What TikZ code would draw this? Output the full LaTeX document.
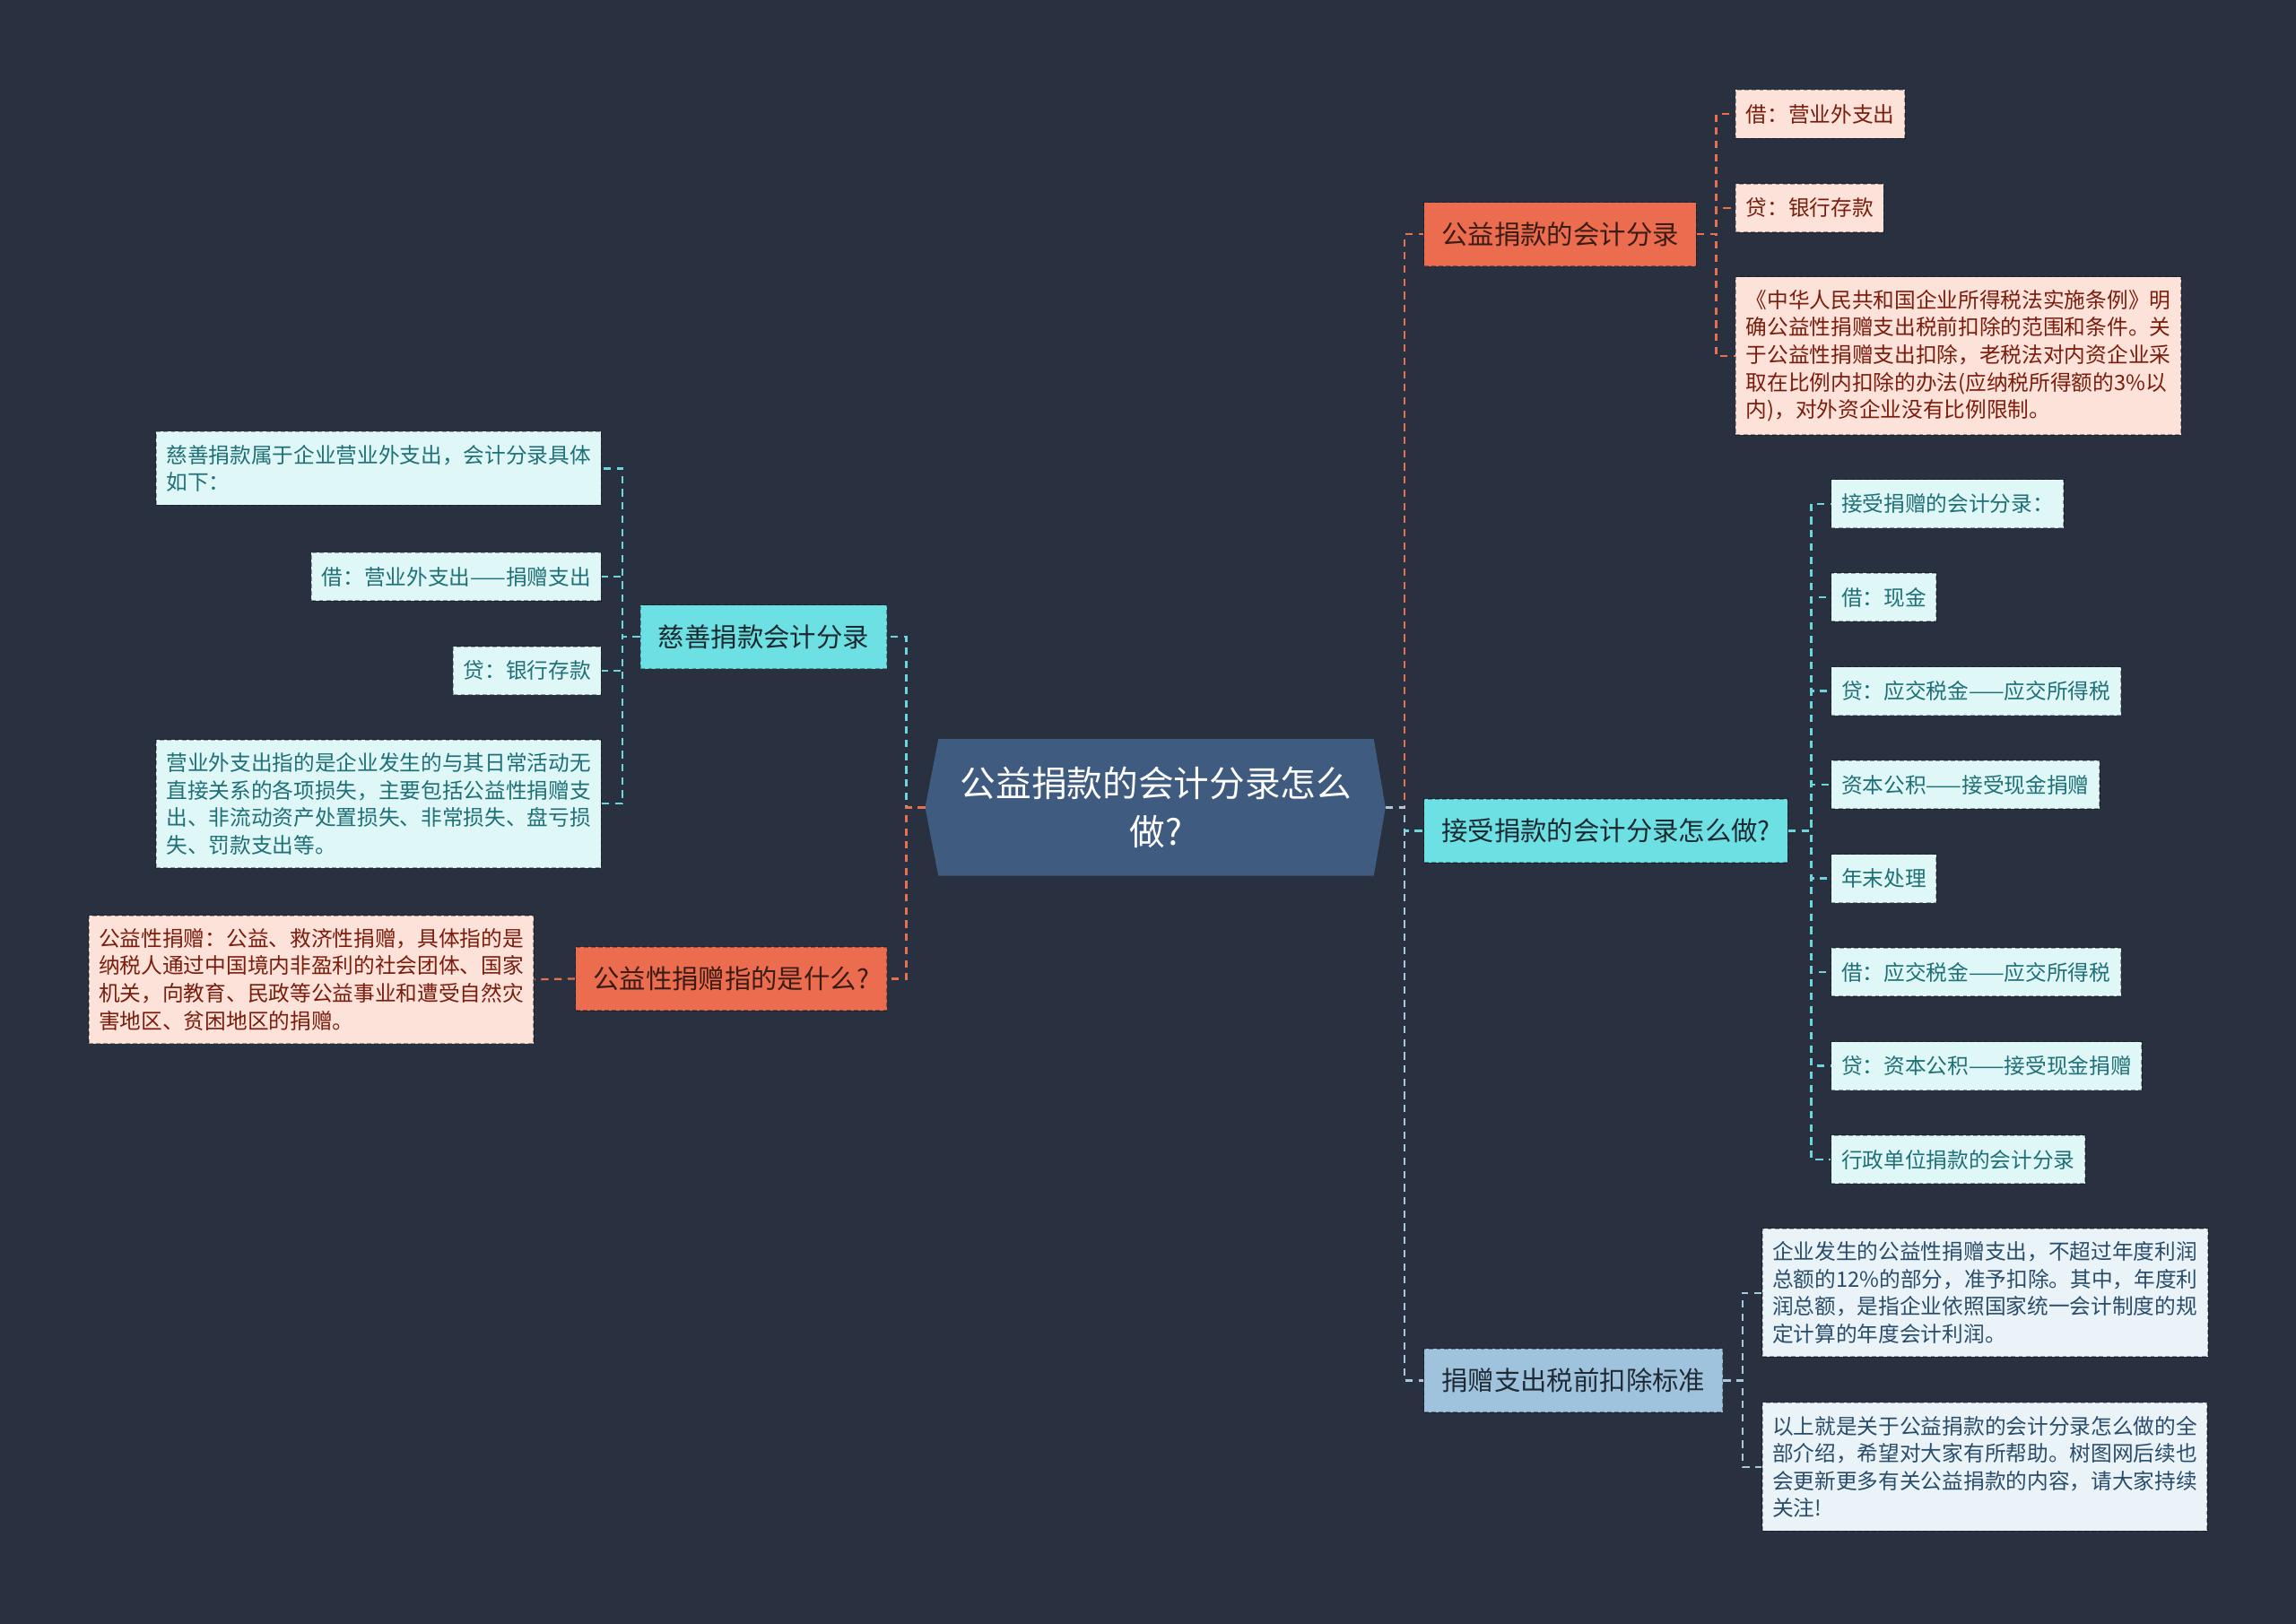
\documentclass[tikz,border=0pt]{standalone}
\usepackage{fontspec}
\setmainfont{Noto Sans CJK SC}
\usetikzlibrary{calc,backgrounds}
\definecolor{bg}{HTML}{29303F}
\definecolor{rootF}{HTML}{3F5B80}
\definecolor{lineO}{HTML}{E8704F}
\definecolor{lineC}{HTML}{6BD6DC}
\definecolor{lineB}{HTML}{A8C8DE}
\definecolor{orangeF}{HTML}{EC6C4F}
\definecolor{orangeT}{HTML}{3B1C14}
\definecolor{cyanF}{HTML}{6DE0E4}
\definecolor{cyanTT}{HTML}{1B2A30}
\definecolor{blueF}{HTML}{A0C3DD}
\definecolor{blueTT}{HTML}{1F2A35}
\definecolor{pinkL}{HTML}{FDE2DA}
\definecolor{pinkT}{HTML}{7B1D0D}
\definecolor{cyanL}{HTML}{E0F7F7}
\definecolor{cyanT}{HTML}{1F7077}
\definecolor{blueL}{HTML}{EAF3F8}
\definecolor{blueT}{HTML}{2A4D6B}
\begin{document}
\begin{tikzpicture}[x=1pt,y=-1pt,
  conn/.style={line width=1.4pt, dash pattern=on 5pt off 4pt},
  oline/.style={conn, draw=lineO},
  cline/.style={conn, draw=lineC},
  bline/.style={conn, draw=lineB},
  boxb/.style={draw=black, draw opacity=0.35, line width=0.9pt, dash pattern=on 3pt off 2pt, rectangle},
  leaf/.style={boxb, inner xsep=7pt, inner ysep=9pt, minimum height=33pt, align=left, font=\fontsize{14.5}{18.7}\selectfont},
  pleaf/.style={leaf, fill=pinkL, text=pinkT},
  cleaf/.style={leaf, fill=cyanL, text=cyanT},
  bleaf/.style={leaf, fill=blueL, text=blueT},
  topic/.style={boxb, inner xsep=12pt, inner ysep=4pt, minimum height=43.5pt, font=\fontsize{18}{22}\selectfont},
  otopic/.style={topic, fill=orangeF, text=orangeT},
  ctopic/.style={topic, fill=cyanF, text=cyanTT},
  btopic/.style={topic, fill=blueF, text=blueTT},
]
\useasboundingbox (0,0) rectangle (1568,1109);

% root
\node[inner sep=0pt, minimum width=297pt, minimum height=93pt, align=center, text=white,
  font=\fontsize{24.3}{33}\selectfont] (root) at (789.5,551.5) {公益捐款的会计分录怎么\\做?};
\coordinate (rootL) at ($(root.west)+(-9,0)$);
\coordinate (rootR) at ($(root.east)+(8,0)$);

% left level 1
\node[ctopic, anchor=east] (c1) at (606,435) {慈善捐款会计分录};
\node[otopic, anchor=east] (c2) at (606,668.5) {公益性捐赠指的是什么?};

% left leaves of c1
\node[cleaf, anchor=east] (a1) at (411,320) {慈善捐款属于企业营业外支出，会计分录具体\\如下：};
\node[cleaf, anchor=east] (a2) at (411,394) {借：营业外支出——捐赠支出};
\node[cleaf, anchor=east] (a3) at (411,458) {贷：银行存款};
\node[cleaf, anchor=east] (a4) at (411,549) {营业外支出指的是企业发生的与其日常活动无\\直接关系的各项损失，主要包括公益性捐赠支\\出、非流动资产处置损失、非常损失、盘亏损\\失、罚款支出等。};

% leaf of c2
\node[pleaf, anchor=east] (b1) at (365,669) {公益性捐赠：公益、救济性捐赠，具体指的是\\纳税人通过中国境内非盈利的社会团体、国家\\机关，向教育、民政等公益事业和遭受自然灾\\害地区、贫困地区的捐赠。};

% right level 1
\node[otopic, anchor=west] (r1) at (972,160) {公益捐款的会计分录};
\node[ctopic, anchor=west] (r2) at (972,567.5) {接受捐款的会计分录怎么做?};
\node[btopic, anchor=west] (r3) at (972,943) {捐赠支出税前扣除标准};

% leaves of r1
\node[pleaf, anchor=west] (d1) at (1185,78) {借：营业外支出};
\node[pleaf, anchor=west] (d2) at (1185,142) {贷：银行存款};
\node[pleaf, anchor=west] (d3) at (1185,243) {《中华人民共和国企业所得税法实施条例》明\\确公益性捐赠支出税前扣除的范围和条件。关\\于公益性捐赠支出扣除，老税法对内资企业采\\取在比例内扣除的办法(应纳税所得额的3\%以\\内)，对外资企业没有比例限制。};

% leaves of r2
\node[cleaf, anchor=west] (e1) at (1250,344) {接受捐赠的会计分录：};
\node[cleaf, anchor=west] (e2) at (1250,408) {借：现金};
\node[cleaf, anchor=west] (e3) at (1250,472) {贷：应交税金——应交所得税};
\node[cleaf, anchor=west] (e4) at (1250,536) {资本公积——接受现金捐赠};
\node[cleaf, anchor=west] (e5) at (1250,600) {年末处理};
\node[cleaf, anchor=west] (e6) at (1250,664) {借：应交税金——应交所得税};
\node[cleaf, anchor=west] (e7) at (1250,728) {贷：资本公积——接受现金捐赠};
\node[cleaf, anchor=west] (e8) at (1250,792) {行政单位捐款的会计分录};

% leaves of r3
\node[bleaf, anchor=west] (f1) at (1203,883) {企业发生的公益性捐赠支出，不超过年度利润\\总额的12\%的部分，准予扣除。其中，年度利\\润总额，是指企业依照国家统一会计制度的规\\定计算的年度会计利润。};
\node[bleaf, anchor=west] (f2) at (1203,1002) {以上就是关于公益捐款的会计分录怎么做的全\\部介绍，希望对大家有所帮助。树图网后续也\\会更新更多有关公益捐款的内容，请大家持续\\关注!};

% trunk coordinates
\coordinate (tL) at ($(c1.east)+(13,0)$);
\coordinate (tR) at ($(r1.west)+(-13,0)$);
\coordinate (t1) at ($(a2.east)+(14,0)$);
\coordinate (t2) at ($(d1.west)+(-13,0)$);
\coordinate (t3) at ($(e1.west)+(-13,0)$);
\coordinate (t4) at ($(f1.west)+(-13,0)$);

% connectors: root -> level 1
\draw[cline] (rootL) -- (rootL -| tL) |- (c1.east);
\draw[oline] (rootL) -- (rootL -| tL) |- (c2.east);
\draw[oline] (rootR) -- (rootR -| tR) |- (r1.west);
\draw[cline] (rootR) -- (rootR -| tR) |- (r2.west);
\draw[bline] (rootR) -- (rootR -| tR) |- (r3.west);

% c1 -> leaves
\foreach \n in {a1,a2,a3,a4}{\draw[cline] (c1.west) -- (c1.west -| t1) |- (\n.east);}
% c2 -> leaf
\draw[oline] (c2.west) -- (b1.east);
% r1 -> leaves
\foreach \n in {d1,d2,d3}{\draw[oline] (r1.east) -- (r1.east -| t2) |- (\n.west);}
% r2 -> leaves
\foreach \n in {e1,e2,e3,e4,e5,e6,e7,e8}{\draw[cline] (r2.east) -- (r2.east -| t3) |- (\n.west);}
% r3 -> leaves
\foreach \n in {f1,f2}{\draw[bline] (r3.east) -- (r3.east -| t4) |- (\n.west);}

\begin{pgfonlayer}{background}
\fill[bg] (0,0) rectangle (1568,1109);
\fill[rootF] (root.north west) -- (root.north east) -- (rootR) -- (root.south east) -- (root.south west) -- (rootL) -- cycle;
\end{pgfonlayer}
\end{tikzpicture}
\end{document}
